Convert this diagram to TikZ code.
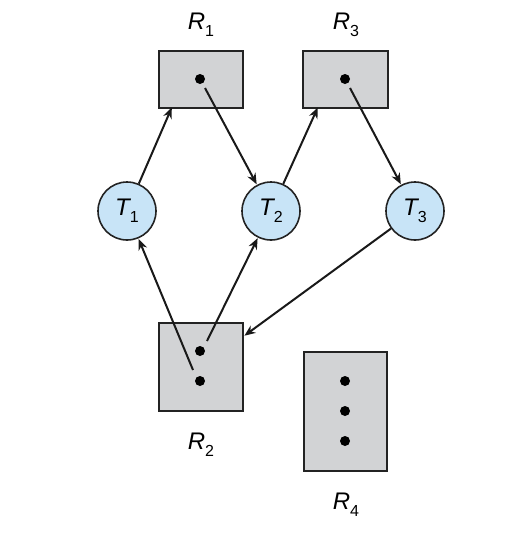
\documentclass[tikz,border=0pt]{standalone}
\usepackage{fontspec}
\setmainfont{Liberation Sans}
\usetikzlibrary{arrows.meta}
\definecolor{boxgray}{RGB}{210,211,213}
\definecolor{tblue}{RGB}{200,228,247}
\definecolor{edge}{RGB}{35,35,35}
\tikzset{
  res/.style={draw=edge, line width=1.6pt, fill=boxgray, inner sep=0pt},
  proc/.style={circle, draw=edge, line width=1.6pt, fill=tblue, minimum size=58pt, inner sep=0pt, font=\fontsize{24}{28}\selectfont\itshape},
  lbl/.style={font=\fontsize{24}{28}\selectfont\itshape, inner sep=0pt},
  dotn/.style={circle, fill=black, minimum size=10pt, inner sep=0pt},
  conn/.style={line width=2pt, draw=black!90, -{Stealth[length=11pt,width=9pt]}, shorten >=0.5pt}
}
\newcommand{\sub}[1]{\raisebox{-0.3em}{\fontsize{16}{18}\selectfont\upshape #1}}
\begin{document}
\begin{tikzpicture}[x=1pt,y=-1pt]
\useasboundingbox (0,0) rectangle (510,536);
% resources
\node[res, minimum width=84pt, minimum height=57pt] (R1) at (201,79.5) {};
\node[res, minimum width=85pt, minimum height=57pt] (R3) at (345.5,79.5) {};
\node[res, minimum width=84pt, minimum height=88pt] (R2) at (201,367) {};
\node[res, minimum width=83pt, minimum height=119pt] (R4) at (345.5,411.5) {};
% dots
\node[dotn] (d1) at (200,79) {};
\node[dotn] (d3) at (345,79) {};
\node[dotn] (d2a) at (200,351) {};
\node[dotn] (d2b) at (200,381) {};
\node[dotn] (d4a) at (345,381) {};
\node[dotn] (d4b) at (345,411) {};
\node[dotn] (d4c) at (345,441) {};
% labels
\node[lbl] (l1) at (201,25) {R\sub{1}};
\node[lbl] (l3) at (346,25) {R\sub{3}};
\node[lbl] (l2) at (201,445) {R\sub{2}};
\node[lbl] (l4) at (346,505) {R\sub{4}};
% processes
\node[proc] (T1) at (127,211) {T\sub{1}};
\node[proc] (T2) at (271,211) {T\sub{2}};
\node[proc] (T3) at (415,211) {T\sub{3}};
% coordinates for arrow ends
\coordinate (a1) at (172,107);
\coordinate (a3) at (318,107);
\coordinate (s1) at (205,88);
\coordinate (s3) at (350,88);
\coordinate (a2) at (244,336);
\coordinate (s2a) at (207,341);
\coordinate (s2b) at (193,370);
% edges
\draw[conn] (T1) -- (a1);
\draw[conn] (s1) -- (T2);
\draw[conn] (T2) -- (a3);
\draw[conn] (s3) -- (T3);
\draw[conn] (T3) -- (a2);
\draw[conn] (s2b) -- (T1);
\draw[conn] (s2a) -- (T2);
\end{tikzpicture}
\end{document}
